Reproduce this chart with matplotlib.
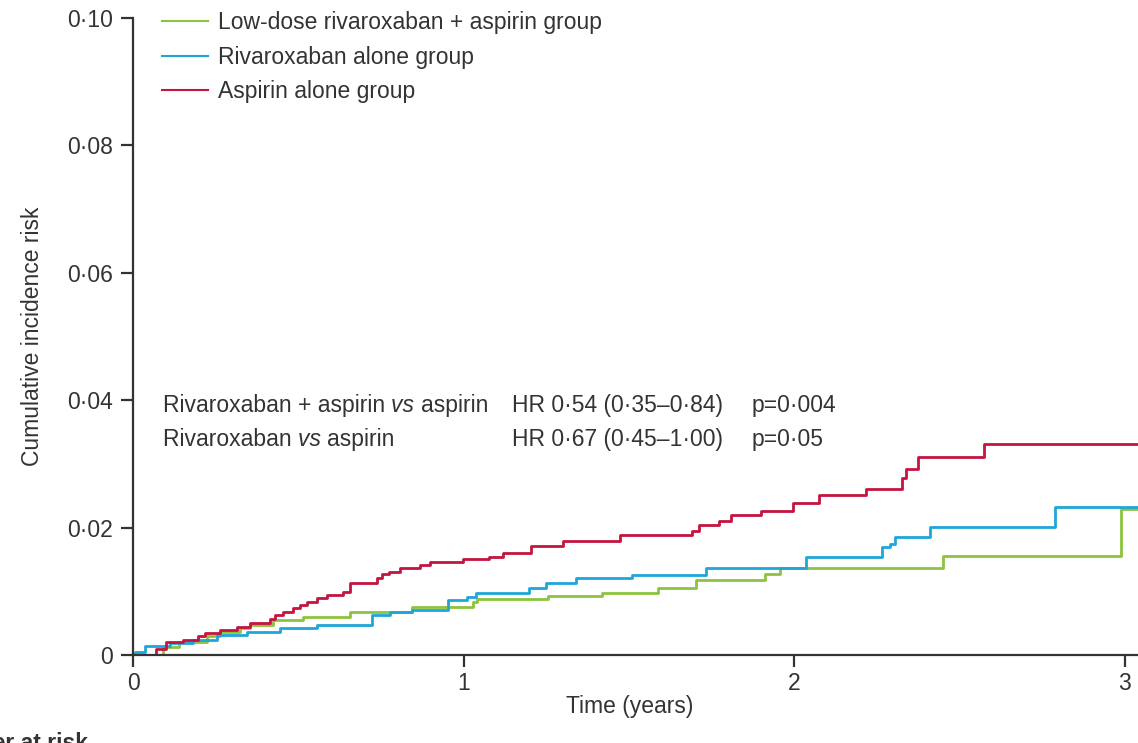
import matplotlib
matplotlib.use("Agg")
import matplotlib.pyplot as plt

plt.rcParams['font.family'] = ['Liberation Sans', 'DejaVu Sans']

# step data (time in years, cumulative incidence)
t_combo = [0, 0.09, 0.14, 0.224, 0.263, 0.323, 0.353, 0.423, 0.514, 0.656, 0.843,
           1.027, 1.042, 1.254, 1.42, 1.589, 1.704, 1.912, 1.958, 2.45, 2.99, 3.04]
y_combo = [0, 0.0012, 0.0020, 0.0030, 0.0036, 0.0042, 0.0047, 0.0055, 0.0060, 0.0068, 0.0075,
           0.0083, 0.0088, 0.0092, 0.0097, 0.0105, 0.0118, 0.0127, 0.0137, 0.0155, 0.0229, 0.0229]

t_riva = [0, 0.006, 0.036, 0.112, 0.181, 0.254, 0.344, 0.444, 0.556, 0.722, 0.776, 0.843,
          0.952, 1.009, 1.039, 1.199, 1.25, 1.341, 1.51, 1.733, 2.036, 2.266, 2.29, 2.305,
          2.41, 2.79, 3.04]
y_riva = [0, 0.0005, 0.0014, 0.0019, 0.0024, 0.0031, 0.0036, 0.0042, 0.0047, 0.0063, 0.0068, 0.0071,
          0.0086, 0.0091, 0.0097, 0.0105, 0.0113, 0.0121, 0.0126, 0.0137, 0.0154, 0.0170, 0.0175, 0.0185,
          0.0201, 0.0232, 0.0232]

t_asp = [0, 0.07, 0.10, 0.15, 0.196, 0.217, 0.263, 0.314, 0.353, 0.414, 0.429, 0.453, 0.483,
         0.504, 0.525, 0.556, 0.586, 0.634, 0.656, 0.737, 0.752, 0.774, 0.807, 0.867, 0.897,
         0.997, 1.078, 1.118, 1.205, 1.30, 1.474, 1.69, 1.713, 1.773, 1.81, 1.90, 1.997, 2.076,
         2.217, 2.326, 2.338, 2.375, 2.574, 3.04]
y_asp = [0, 0.0010, 0.0020, 0.0024, 0.0030, 0.0035, 0.0039, 0.0044, 0.0050, 0.0057, 0.0063, 0.0068, 0.0074,
         0.0079, 0.0083, 0.0089, 0.0094, 0.0099, 0.0113, 0.0121, 0.0127, 0.0130, 0.0137, 0.0141, 0.0146,
         0.0151, 0.0154, 0.0160, 0.0171, 0.0179, 0.0188, 0.0195, 0.0204, 0.0211, 0.0220, 0.0226, 0.0239, 0.0251,
         0.0261, 0.0278, 0.0292, 0.0311, 0.0331, 0.0331]

labels = ["Low-dose rivaroxaban + aspirin group", "Rivaroxaban alone group", "Aspirin alone group"]
colors = ["#8cc43f", "#1fa6d9", "#c4143f"]

yticks = [0, 0.02, 0.04, 0.06, 0.08, 0.10]
ytick_labels = ["0", "0·02", "0·04", "0·06", "0·08", "0·10"]
xticks = [0, 1, 2, 3]

stats_rows = [("Rivaroxaban + aspirin ", "aspirin", "HR 0·54 (0·35–0·84)", "p=0·004"),
              ("Rivaroxaban ", "aspirin", "HR 0·67 (0·45–1·00)", "p=0·05")]

fs = 16.5
fig = plt.figure(figsize=(11.38, 7.43), dpi=100)
ax = fig.add_axes([133/1138, 1 - 655/743, 1 - 133/1138, (655 - 18)/743])

for t, y, c, lab in zip([t_combo, t_riva, t_asp], [y_combo, y_riva, y_asp], colors, labels):
    ax.plot(t, y, drawstyle="steps-post", color=c, lw=2.0, label=lab)

ax.set_xlim(0, 3.04)
ax.set_ylim(0, 0.10)
ax.set_yticks(yticks)
ax.set_yticklabels(ytick_labels)
ax.set_xticks(xticks)
for s in ["top", "right"]:
    ax.spines[s].set_visible(False)
for s in ["left", "bottom"]:
    ax.spines[s].set_linewidth(1.6)
    ax.spines[s].set_color("#333333")
ax.tick_params(length=8.5, width=1.6, color="#333333", labelsize=fs, labelcolor="#333333")
ax.tick_params(axis="y", pad=6)
ax.tick_params(axis="x", pad=4)

leg = ax.legend(loc="upper left", bbox_to_anchor=(0.02, 1.025), frameon=False, fontsize=fs,
                handlelength=2.0, handletextpad=0.45, labelspacing=0.5, borderaxespad=0)
for h in leg.get_lines():
    h.set_linewidth(1.5)
for txt in leg.get_texts():
    txt.set_color("#333333")

# HR annotations
fig.canvas.draw()
r = fig.canvas.get_renderer()
inv = ax.transData.inverted()
for i, (a, b, hr, p) in enumerate(stats_rows):
    yv = 0.0392 - i * 0.00534
    t1 = ax.text(0.09, yv, a, fontsize=fs, va="center", color="#333333")
    bb = t1.get_window_extent(r)
    x2 = inv.transform((bb.x1, bb.y0))[0]
    t2 = ax.text(x2, yv, "vs ", fontsize=fs, va="center", style="italic", color="#333333")
    bb = t2.get_window_extent(r)
    x3 = inv.transform((bb.x1, bb.y0))[0]
    ax.text(x3, yv, b, fontsize=fs, va="center", color="#333333")
    ax.text(1.145, yv, hr, fontsize=fs, va="center", color="#333333")
    ax.text(1.87, yv, p, fontsize=fs, va="center", color="#333333")

fig.text(33/1138, 1 - 336/743, "Cumulative incidence risk", rotation=90, fontsize=fs,
         ha="center", va="center", color="#333333")
fig.text(630/1138, 1 - 706/743, "Time (years)", fontsize=fs, ha="center", va="center", color="#333333")
fig.text(88/1138, 1 - 732/743, "Number at risk", fontsize=fs, ha="right", va="top",
         fontweight="bold", color="#333333")

fig.savefig("out.png", dpi=100)
